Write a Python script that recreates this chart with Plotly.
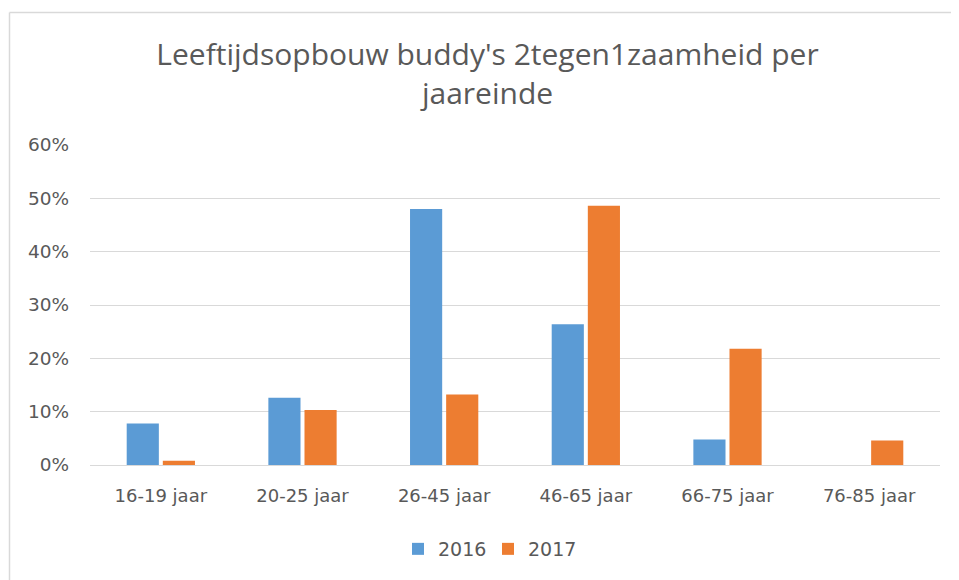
import plotly.graph_objects as go

categories = ["16-19 jaar", "20-25 jaar", "26-45 jaar", "46-65 jaar", "66-75 jaar", "76-85 jaar"]
values_2016 = [0.078, 0.126, 0.480, 0.264, 0.048, 0.0]
values_2017 = [0.008, 0.103, 0.132, 0.486, 0.218, 0.046]
tick_vals = [0, 0.1, 0.2, 0.3, 0.4, 0.5, 0.6]
tick_text = ["0%", "10%", "20%", "30%", "40%", "50%", "60%"]

text_color = "#595959"
font_main = "DejaVu Sans, Verdana, sans-serif"

fig = go.Figure()
fig.add_trace(go.Bar(name="2016", x=categories, y=values_2016, marker=dict(color="#5B9BD5", line=dict(width=0))))
fig.add_trace(go.Bar(name="2017", x=categories, y=values_2017, marker=dict(color="#ED7D31", line=dict(width=0))))

# the page body adds an 8px offset; margins compensate so the plot area lands as in the reference
W, H = 959, 580
L, T = 82, 137
pw, ph = 850, 320
R, B = W - L - pw, H - T - ph

fig.update_layout(
    width=W, height=H,
    margin=dict(l=L, r=R, t=T, b=B, autoexpand=False),
    paper_bgcolor="white", plot_bgcolor="white",
    barmode="group", bargap=0.49, bargroupgap=0.11,
    title=dict(
        text="Leeftijdsopbouw buddy's 2tegen1zaamheid per<br>jaareinde",
        x=0.5, xanchor="center", y=1 - 57 / H, yanchor="top",
        font=dict(family="Open Sans, sans-serif", size=30, color=text_color),
    ),
    font=dict(family=font_main, size=16, color=text_color),
    xaxis=dict(showgrid=False, showline=False, ticks="", automargin=False,
               ticklabelstandoff=18, tickfont=dict(size=18, color=text_color)),
    yaxis=dict(
        range=[0, 0.6], tickvals=tick_vals, ticktext=tick_text, automargin=False,
        showgrid=True, gridcolor="#D9D9D9", gridwidth=1,
        zeroline=True, zerolinecolor="#D9D9D9", zerolinewidth=1,
        showline=False, ticks="", ticklabelstandoff=20,
        tickfont=dict(size=18.5, color=text_color),
    ),
    legend=dict(
        orientation="h", x=480 / W, xanchor="center", xref="container",
        y=1 - 541 / H, yanchor="middle", yref="container",
        font=dict(size=19, color=text_color), traceorder="normal",
        entrywidth=45, entrywidthmode="pixels",
    ),
    shapes=[
        dict(type="line", xref="paper", yref="paper",
             x0=(1.5 - L) / pw, x1=(1.5 - L) / pw, y0=1 + (T - 4.5) / ph, y1=-(B + 10) / ph,
             line=dict(color="#D9D9D9", width=1.5)),
        dict(type="line", xref="paper", yref="paper",
             x0=(1.5 - L) / pw, x1=(W + 10 - L) / pw, y0=1 + (T - 4.5) / ph, y1=1 + (T - 4.5) / ph,
             line=dict(color="#D9D9D9", width=1.5)),
    ],
)

fig.write_html("out.html")
